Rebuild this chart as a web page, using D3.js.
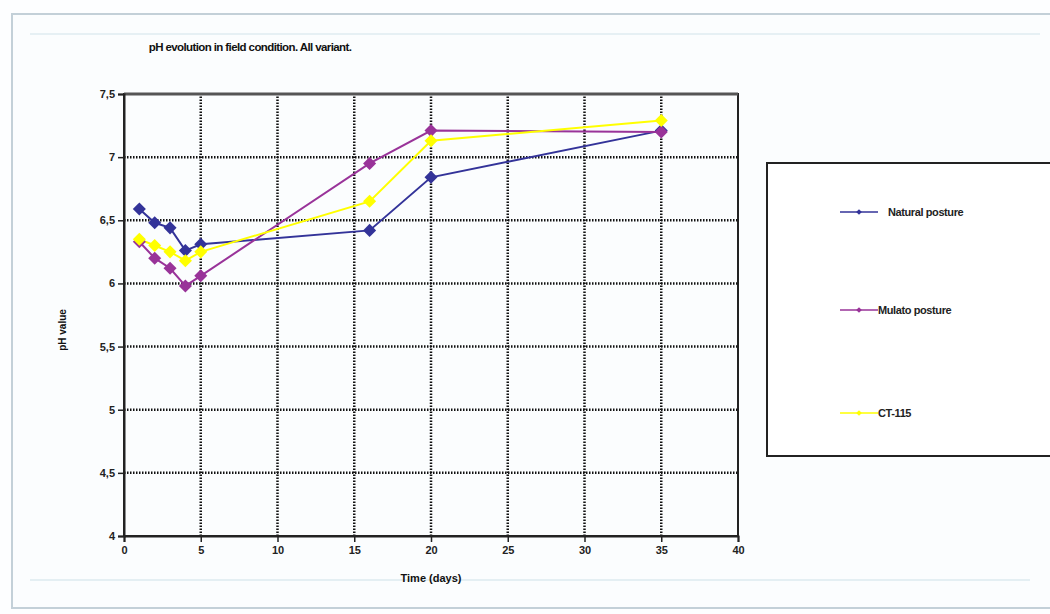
<!DOCTYPE html>
<html><head><meta charset="utf-8">
<script src="https://cdn.jsdelivr.net/npm/d3@7"></script>
<style>body{margin:0;background:#fff;} svg{display:block;font-family:"Liberation Sans",Arial,sans-serif;}</style>
</head><body><svg id="c" width="1050" height="614"></svg>
<script>
const days = [1, 2, 3, 4, 5, 16, 20, 35];
const natural = [6.59, 6.48, 6.44, 6.26, 6.31, 6.42, 6.84, 7.21];
const mulato  = [6.33, 6.20, 6.12, 5.98, 6.06, 6.95, 7.21, 7.20];
const ct115   = [6.35, 6.30, 6.25, 6.18, 6.25, 6.65, 7.13, 7.29];
const seriesNames = ["Natural posture", "Mulato posture", "CT-115"];
const seriesColors = ["#333399", "#993399", "#ffff00"];
const xTicks = [0, 5, 10, 15, 20, 25, 30, 35, 40];
const yTicks = [4, 4.5, 5, 5.5, 6, 6.5, 7, 7.5];

const svg = d3.select("#c");
// background frame
svg.append("rect").attr("x",0).attr("y",0).attr("width",1050).attr("height",614).attr("fill","#fdfeff");
svg.append("rect").attr("x",12).attr("y",14).attr("width",1045).attr("height",594)
  .attr("fill","#fbfdfe").attr("stroke","#c3d0d8").attr("stroke-width",2);
svg.append("line").attr("x1",30).attr("x2",1040).attr("y1",34).attr("y2",34).attr("stroke","#e6f0f4").attr("stroke-width",2);
svg.append("line").attr("x1",30).attr("x2",1030).attr("y1",580).attr("y2",580).attr("stroke","#e4eff3").attr("stroke-width",2);

const x = d3.scaleLinear().domain([0,40]).range([124,738]);
const y = d3.scaleLinear().domain([4,7.5]).range([536,94]);

const g = svg.append("g");
// grid
g.selectAll(".hg").data(yTicks.filter(v=>v>4&&v<7.5)).enter().append("line")
  .attr("x1",x(0)).attr("x2",x(40)).attr("y1",d=>y(d)).attr("y2",d=>y(d))
  .attr("stroke","#111").attr("stroke-width",2.5).attr("stroke-dasharray","1.5,1.5");
g.selectAll(".vg").data(xTicks.filter(v=>v>0&&v<40)).enter().append("line")
  .attr("y1",y(4)).attr("y2",y(7.5)).attr("x1",d=>x(d)).attr("x2",d=>x(d))
  .attr("stroke","#111").attr("stroke-width",2.5).attr("stroke-dasharray","1.5,1.5");
// frame
g.append("rect").attr("x",x(0)).attr("y",y(7.5)).attr("width",x(40)-x(0)).attr("height",y(4)-y(7.5))
  .attr("fill","none").attr("stroke","#222").attr("stroke-width",2);
g.append("line").attr("x1",x(0)).attr("x2",x(40)).attr("y1",y(7.5)).attr("y2",y(7.5)).attr("stroke","#555").attr("stroke-width",3);

// axes
const fmt = d => String(d).replace(".", ",");
const yAxis = d3.axisLeft(y).tickValues(yTicks).tickSize(6).tickFormat(fmt);
const xAxis = d3.axisBottom(x).tickValues(xTicks).tickSize(6).tickFormat(d=>d);
const ya = svg.append("g").attr("transform",`translate(${x(0)},0)`).call(yAxis);
const xa = svg.append("g").attr("transform",`translate(0,${y(4)})`).call(xAxis);
[ya, xa].forEach(a=>{
  a.select(".domain").attr("stroke","#222").attr("stroke-width",2);
  a.selectAll(".tick line").attr("stroke","#222").attr("stroke-width",1.5);
  a.selectAll("text").attr("font-size",11).attr("font-weight","bold").attr("fill","#222").attr("font-family","Liberation Sans, Arial");
});
ya.selectAll("text").attr("x",-9);
xa.selectAll("text").attr("y",10);

// series
const data = [natural, mulato, ct115];
const line = d3.line().x((d,i)=>x(days[i])).y(d=>y(d));
const marker = d3.symbol().type(d3.symbolSquare).size(85);
data.forEach((s,k)=>{
  svg.append("path").datum(s).attr("d",line).attr("fill","none")
    .attr("stroke",seriesColors[k]).attr("stroke-width",2);
});
data.forEach((s,k)=>{
  svg.selectAll(".m"+k).data(s).enter().append("path")
    .attr("d",marker).attr("transform",(d,i)=>`translate(${x(days[i])},${y(d)}) rotate(45)`)
    .attr("fill",seriesColors[k]);
});

// title & labels
svg.append("text").attr("x",250).attr("y",51).attr("text-anchor","middle")
  .attr("font-size",11.5).attr("font-weight","bold").attr("fill","#111").attr("letter-spacing","-0.6")
  .text("pH evolution in field condition. All variant.");
svg.append("text").attr("x",(x(0)+x(40))/2).attr("y",582).attr("text-anchor","middle")
  .attr("font-size",11).attr("font-weight","bold").attr("fill","#111").text("Time (days)");
svg.append("text").attr("transform","translate(66,330) rotate(-90)").attr("text-anchor","middle")
  .attr("font-size",10).attr("font-weight","bold").attr("fill","#111").text("pH value");

// legend
const lg = svg.append("g");
lg.append("rect").attr("x",767).attr("y",163).attr("width",300).attr("height",293)
  .attr("fill","#fff").attr("stroke","#222").attr("stroke-width",2);
const legY = [212, 310, 413];
const legTextX = [888, 878, 878];
seriesNames.forEach((n,k)=>{
  lg.append("line").attr("x1",840).attr("x2",878).attr("y1",legY[k]).attr("y2",legY[k])
    .attr("stroke",seriesColors[k]).attr("stroke-width",1.5);
  lg.append("path").attr("d",d3.symbol().type(d3.symbolSquare).size(16)).attr("transform",`translate(859,${legY[k]}) rotate(45)`).attr("fill",seriesColors[k]);
  lg.append("text").attr("x",legTextX[k]).attr("y",legY[k]+4).attr("font-size",11).attr("font-weight","bold")
    .attr("fill","#222").attr("letter-spacing","-0.4").text(n);
});
</script></body></html>
